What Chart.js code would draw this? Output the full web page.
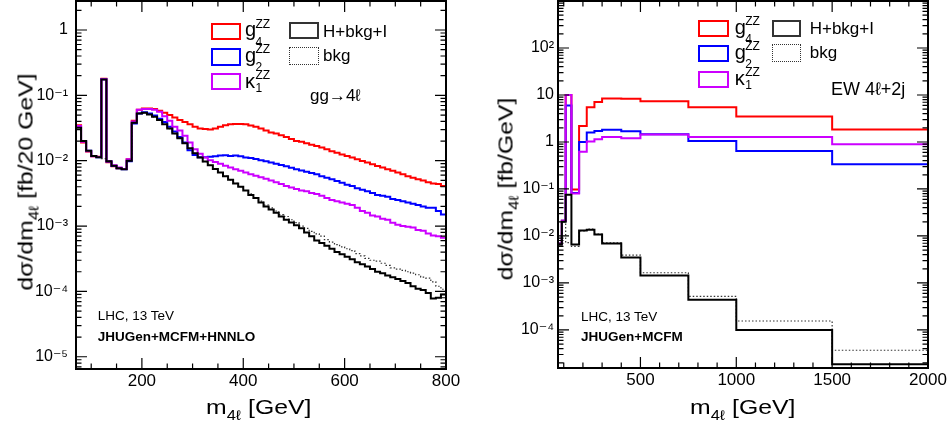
<!DOCTYPE html>
<html><head><meta charset="utf-8">
<script src="https://cdn.jsdelivr.net/npm/chart.js@4.4.1/dist/chart.umd.min.js"></script>
<style>
html,body{margin:0;padding:0;background:#fff;}
body{width:948px;height:428px;position:relative;overflow:hidden;font-family:"Liberation Sans",Arial,Helvetica,sans-serif;color:#000;}
canvas{position:absolute;top:0;}
.tx{position:absolute;white-space:nowrap;line-height:1;}
.bx{position:absolute;box-sizing:border-box;}
</style></head><body>
<canvas id="gg" width="474" height="428" style="left:0"></canvas>
<canvas id="ew" width="474" height="428" style="left:474px"></canvas>
<script>
// ---------------- left panel: gg -> 4l, 10 GeV bins ----------------
const ggEdges = [70,80,90,100,110,120,130,140,150,160,170,180,190,200,210,220,230,240,250,260,
  270,280,290,300,310,320,330,340,350,360,370,380,390,400,410,420,430,440,450,460,
  470,480,490,500,510,520,530,540,550,560,570,580,590,600,610,620,630,640,650,660,
  670,680,690,700,710,720,730,740,750,760,770,780,790,800];
const ggHBkgI = [0.032,0.020,0.0142,0.0118,0.0113,0.175,0.0098,0.0084,0.0077,0.0074,
  0.0100,0.038,0.053,0.054,0.051,0.047,0.042,0.036,0.031,0.026,
  0.022,0.0185,0.0155,0.013,0.0112,0.0097,0.0085,0.0075,0.0066,0.0058,
  0.0051,0.0045,0.0040,0.0035,0.0030,0.0027,0.0023,0.0020,0.0018,0.0016,
  0.0014,0.00125,0.00113,0.00103,0.00093,0.0008,0.0007,0.0006,0.00055,0.0005,
  0.00045,0.0004,0.00037,0.00034,0.00031,0.00028,0.00026,0.00024,0.00022,0.0002,
  0.00019,0.000175,0.000165,0.000155,0.000145,0.000135,0.00012,0.00011,0.000105,0.000095,
  0.000078,0.00008,0.00009];
const ggBkg = [0.032,0.020,0.0142,0.0118,0.0113,0.0108,0.0098,0.0084,0.0077,0.0074,
  0.0100,0.038,0.053,0.054,0.051,0.047,0.042,0.036,0.031,0.026,
  0.022,0.0185,0.0155,0.013,0.0112,0.0097,0.0085,0.0075,0.0066,0.0058,
  0.0051,0.0045,0.0040,0.0035,0.0031,0.0027,0.0024,0.0021,0.0019,0.0017,
  0.0015,0.0014,0.00125,0.00113,0.001,0.00092,0.00083,0.00076,0.0007,0.00062,
  0.00057,0.00052,0.00048,0.00045,0.00042,0.00038,0.00035,0.00032,0.0003,0.00029,
  0.00027,0.00025,0.00023,0.00022,0.00021,0.0002,0.00019,0.00018,0.000165,0.00016,
  0.00014,0.00012,0.000108];
const ggG4 = [0.035,0.019,0.0138,0.0117,0.0115,0.18,0.0095,0.0082,0.0077,0.0075,
  0.0105,0.041,0.060,0.063,0.063,0.062,0.058,0.054,0.050,0.046,
  0.042,0.039,0.036,0.033,0.031,0.0305,0.030,0.031,0.033,0.035,
  0.036,0.0365,0.0365,0.036,0.0345,0.033,0.031,0.029,0.027,0.026,
  0.0245,0.023,0.0215,0.020,0.0195,0.0185,0.0175,0.0168,0.016,0.015,
  0.014,0.0132,0.0125,0.0118,0.0112,0.0105,0.0099,0.0094,0.0088,0.0083,
  0.0079,0.0074,0.007,0.0066,0.0062,0.0058,0.0055,0.0052,0.005,0.0047,
  0.0045,0.0044,0.0041];
const ggG2 = [0.033,0.020,0.0142,0.0118,0.0113,0.176,0.0097,0.0083,0.0077,0.0074,
  0.0098,0.037,0.053,0.055,0.053,0.049,0.044,0.039,0.033,0.028,
  0.023,0.019,0.0145,0.0122,0.0113,0.0113,0.0115,0.0117,0.012,0.0121,
  0.0118,0.0120,0.0117,0.0112,0.011,0.0106,0.0102,0.0098,0.0094,0.009,
  0.0086,0.0082,0.0078,0.0074,0.0071,0.0068,0.0065,0.0062,0.0058,0.0055,
  0.0052,0.0049,0.0046,0.0043,0.0041,0.0038,0.0036,0.0034,0.0032,0.0030,
  0.0029,0.0028,0.0026,0.0025,0.0024,0.0023,0.0022,0.0021,0.002,0.0019,
  0.0019,0.0017,0.0015];
const ggK1 = [0.034,0.0195,0.0140,0.0117,0.0114,0.177,0.0098,0.0085,0.0079,0.0075,
  0.0105,0.040,0.060,0.062,0.062,0.060,0.056,0.048,0.041,0.033,
  0.029,0.024,0.019,0.015,0.0128,0.0112,0.0102,0.0096,0.009,0.0084,
  0.0079,0.0074,0.007,0.0066,0.0062,0.0059,0.0056,0.0053,0.005,0.0047,
  0.0044,0.0041,0.0039,0.0037,0.0035,0.0034,0.0032,0.0031,0.0029,0.0027,
  0.0025,0.0024,0.0023,0.0022,0.0021,0.0019,0.0017,0.0016,0.00145,0.0014,
  0.0013,0.00125,0.00112,0.00105,0.001,0.00098,0.00095,0.00087,0.00085,0.00077,
  0.00072,0.0007,0.00066];
const ggXRange = [70, 800];
const ggYRange = [6.5e-6, 2.78];
const ggXMajor = [200, 400, 600, 800];
const ggXLabels = ['200', '400', '600', '800'];
const ggXMinorStep = 50;
const ggYMajor = [1e-5, 1e-4, 1e-3, 1e-2, 1e-1, 1];
const ggYLabels = ['10\u207B\u2075', '10\u207B\u2074', '10\u207B\u00B3', '10\u207B\u00B2', '10\u207B\u00B9', '1'];

// ---------------- right panel: EW 4l+2j, variable bins ----------------
const ewEdges = [70, 90, 110, 140, 180, 220, 260, 300, 400, 500, 750, 1000, 1500, 2000];
const ewG4   = [0.0068, 0.021, 10, 0.097, 2.2, 5.5, 7.1, 8.4, 8.3, 7.4, 5.5, 3.5, 1.84];
const ewG2   = [0.0068, 0.021, 6.0, 0.082, 1.0, 1.6, 1.72, 1.82, 1.7, 1.46, 1.05, 0.64, 0.335];
const ewK1   = [0.0068, 0.021, 10, 0.08, 0.62, 1.02, 1.15, 1.28, 1.2, 1.45, 1.28, 1.28, 0.9];
const ewHBkgI = [0.0065, 0.02, 0.075, 0.0066, 0.013, 0.0135, 0.0107, 0.0069, 0.0035, 0.00145, 0.00044, 0.0001, 1.86e-5];
const ewBkg  = [0.008, 0.02, 0.0072, 0.006, 0.0128, 0.014, 0.011, 0.0071, 0.0039, 0.00165, 0.00052, 0.000155, 3.7e-5];
const ewXRange = [70, 2000];
const ewYRange = [1.55e-5, 1000];
const ewXMajor = [500, 1000, 1500, 2000];
const ewXLabels = ['500', '1000', '1500', '2000'];
const ewXMinorStep = 100;
const ewYMajor = [1e-4, 1e-3, 1e-2, 1e-1, 1, 10, 100];
const ewYLabels = ['10\u207B\u2074', '10\u207B\u00B3', '10\u207B\u00B2', '10\u207B\u00B9', '1', '10', '10\u00B2'];

const seriesNames = ['H+bkg+I', 'bkg', '\u03BA1ZZ', 'g2ZZ', 'g4ZZ'];

// ---------------- helpers ----------------
Chart.defaults.font.family = "'Liberation Sans', Arial, Helvetica, 'DejaVu Sans', sans-serif";
Chart.defaults.color = '#000';

function histPoints(edges, vals) {
  // point i+1 sits at the upper edge of bin i; first point at the lowest edge
  const pts = [{x: edges[0], y: vals[0]}];
  vals.forEach((v, i) => pts.push({x: edges[i + 1], y: v}));
  return pts;
}
function logTickValues(min, max) {
  const out = [];
  for (let d = Math.floor(Math.log10(min)); d <= Math.ceil(Math.log10(max)); d++)
    for (let m = 1; m <= 9; m++) {
      const v = m * Math.pow(10, d);
      if (v >= min * 0.9999 && v <= max * 1.0001) out.push(v);
    }
  return out;
}
function linTickValues(min, max, step) {
  const out = [];
  for (let v = Math.ceil(min / step) * step; v <= max + 1e-9; v += step) out.push(v);
  return out;
}
function findIdx(arr, v) {
  return arr.findIndex(m => Math.abs(m - v) <= Math.abs(m) * 1e-6);
}

const rootFrame = {
  id: 'rootFrame',
  afterDraw(chart, args, o) {
    const {ctx, chartArea: a} = chart;
    const x = chart.scales.x, y = chart.scales.y;
    ctx.save();
    ctx.strokeStyle = '#000';
    ctx.lineWidth = 1.2;
    ctx.beginPath();
    x.ticks.forEach(t => {
      const px = x.getPixelForValue(t.value);
      const L = findIdx(o.xMajor, t.value) >= 0 ? 11 : 5.5;
      ctx.moveTo(px, a.bottom); ctx.lineTo(px, a.bottom - L);
      ctx.moveTo(px, a.top); ctx.lineTo(px, a.top + L);
    });
    y.ticks.forEach(t => {
      const py = y.getPixelForValue(t.value);
      const L = findIdx(o.yMajor, t.value) >= 0 ? 11 : 5.5;
      ctx.moveTo(a.left, py); ctx.lineTo(a.left + L, py);
      ctx.moveTo(a.right, py); ctx.lineTo(a.right - L, py);
    });
    ctx.stroke();
    ctx.lineWidth = 2;
    ctx.strokeRect(a.left, a.top, a.right - a.left, a.bottom - a.top);
    ctx.restore();
  }
};

function makeChart(id, c) {
  const colors = ['#000000', '#333333', '#cc00ff', '#0000ff', '#ff0000'];
  const widths = [2, 1.2, 2, 2, 2];
  const dashes = [[], [1.5, 2], [], [], []];
  const xTicks = linTickValues(c.xRange[0], c.xRange[1], c.xStep);
  const yTicks = logTickValues(c.yRange[0], c.yRange[1]);
  return new Chart(document.getElementById(id), {
    type: 'line',
    data: {
      datasets: c.series.map((vals, i) => ({
        label: seriesNames[i],
        data: histPoints(c.edges, vals),
        borderColor: colors[i],
        borderWidth: widths[i],
        borderDash: dashes[i],
        stepped: 'after',
        pointRadius: 0,
        fill: false,
        tension: 0,
        borderJoinStyle: 'miter',
        borderCapStyle: 'butt'
      }))
    },
    options: {
      responsive: false, animation: false, devicePixelRatio: 1, events: [],
      layout: {padding: {top: 1, right: c.padRight, left: 0, bottom: 0}},
      plugins: {legend: {display: false}, tooltip: {enabled: false},
        rootFrame: {xMajor: c.xMajor, yMajor: c.yMajor}},
      scales: {
        x: {
          type: 'linear', min: c.xRange[0], max: c.xRange[1], bounds: 'data',
          grid: {display: false, drawTicks: false}, border: {display: false},
          ticks: {autoSkip: false, maxRotation: 0, minRotation: 0, padding: 2,
            font: {size: 17}, color: '#000',
            callback: v => { const k = findIdx(c.xMajor, v); return k >= 0 ? c.xLabels[k] : ''; }},
          afterBuildTicks: s => { s.ticks = xTicks.map(v => ({value: v})); },
          afterFit: s => { s.height = c.xAxisH; s.paddingLeft = 0; s.paddingRight = 0; }
        },
        y: {
          type: 'logarithmic', min: c.yRange[0], max: c.yRange[1], bounds: 'data',
          grid: {display: false, drawTicks: false}, border: {display: false},
          ticks: {autoSkip: false, padding: c.yPad, font: {size: 16}, color: '#000',
            callback: v => { const k = findIdx(c.yMajor, v); return k >= 0 ? c.yLabels[k] : ''; }},
          afterBuildTicks: s => { s.ticks = yTicks.map(v => ({value: v})); },
          afterFit: s => { s.width = c.yAxisW; s.paddingTop = 0; s.paddingBottom = 0; }
        }
      }
    },
    plugins: [rootFrame]
  });
}

makeChart('gg', {
  edges: ggEdges, series: [ggHBkgI, ggBkg, ggK1, ggG2, ggG4],
  xRange: ggXRange, yRange: ggYRange, xStep: ggXMinorStep,
  xMajor: ggXMajor, xLabels: ggXLabels, yMajor: ggYMajor, yLabels: ggYLabels,
  yAxisW: 76, xAxisH: 59, padRight: 28, yPad: 8
});
makeChart('ew', {
  edges: ewEdges, series: [ewHBkgI, ewBkg, ewK1, ewG2, ewG4],
  xRange: ewXRange, yRange: ewYRange, xStep: ewXMinorStep,
  xMajor: ewXMajor, xLabels: ewXLabels, yMajor: ewYMajor, yLabels: ewYLabels,
  yAxisW: 84, xAxisH: 60, padRight: 20, yPad: 4
});

// ---------------- text overlays (real text) ----------------
function addText(html, x, base, size, extra) {
  const d = document.createElement('div');
  d.className = 'tx';
  d.innerHTML = html;
  d.style.left = x + 'px';
  d.style.top = (base - 0.8465 * size) + 'px';
  d.style.fontSize = size + 'px';
  if (extra) Object.assign(d.style, extra);
  document.body.appendChild(d);
  return d;
}
function addBox(x, y, w, h, border) {
  const d = document.createElement('div');
  d.className = 'bx';
  Object.assign(d.style, {left: x + 'px', top: y + 'px', width: w + 'px', height: h + 'px', border: border});
  document.body.appendChild(d);
}
function addRotated(html, cx, cy, size) {
  const d = document.createElement('div');
  d.className = 'tx';
  d.innerHTML = html;
  Object.assign(d.style, {left: cx + 'px', top: cy + 'px', fontSize: size + 'px',
    transform: 'translate(-50%,-50%) rotate(-90deg) scaleX(1.18)'});
  document.body.appendChild(d);
}
const sub4l = '<span style="font-size:14px;position:relative;top:6px">4\u2113</span>';
const stretch = {transform: 'scaleX(1.18)', transformOrigin: '0 0'};

// axis titles
addText('m' + sub4l + ' [GeV]', 206, 414, 21, stretch);
addText('m' + sub4l + ' [GeV]', 690, 413.5, 21, stretch);
addRotated('d\u03C3/dm' + sub4l + ' [fb/20 GeV]', 24.7, 181.7, 21);
addRotated('d\u03C3/dm' + sub4l + ' [fb/GeV]', 504.5, 189, 21);

// legends
function legend(L) {
  const red = '2px solid #ff0000', blue = '2px solid #0000ff', mag = '2px solid #cc00ff';
  addBox(L.bx, L.rows[0] - 8.7, L.bw, 17.3, red);
  addBox(L.bx, L.rows[1] - 8.7, L.bw, 17.3, blue);
  addBox(L.bx, L.rows[2] - 8.5, L.bw, 17, mag);
  const syms = ['g', 'g', '\u03BA'], subs = ['4', '2', '1'];
  for (let i = 0; i < 3; i++) {
    const b = L.rows[i] + (i === 2 ? 6 : 5);
    addText(syms[i], L.tx, b, 20);
    addText('ZZ', L.tx + 10.5, b - 8.5, 12);
    addText(subs[i], L.tx + 10.5, b + 9.5 - (i === 2 ? 5.5 : 0), 12);
  }
  addBox(L.kx, L.rows[0] - 9, L.kw, 17, '2px solid #333');
  addBox(L.kx, L.rows[1] - 10, L.kw, 18, '1px dotted #333');
  addText('H+bkg+I', L.ktx, L.rows[0] + 6, 17);
  addText('bkg', L.ktx, L.rows[1] + 4.5, 17);
}
legend({bx: 211, bw: 30, rows: [31.3, 57, 81.8], tx: 245, kx: 289.3, kw: 30, ktx: 323});
legend({bx: 698, bw: 30.7, rows: [28.6, 53.6, 79], tx: 734.7, kx: 772.3, kw: 29, ktx: 809.7});
addText('gg\u21924\u2113', 310, 101, 17);
addText('EW 4\u2113+2j', 831, 95, 18);

// generator annotations
addText('LHC, 13 TeV', 97.7, 320, 13.5);
addText('JHUGen+MCFM+HNNLO', 97.7, 341.7, 13.5, {fontWeight: 'bold'});
addText('LHC, 13 TeV', 581, 321.7, 13.5);
addText('JHUGen+MCFM', 581, 341.7, 13.5, {fontWeight: 'bold'});
</script>
</body></html>
